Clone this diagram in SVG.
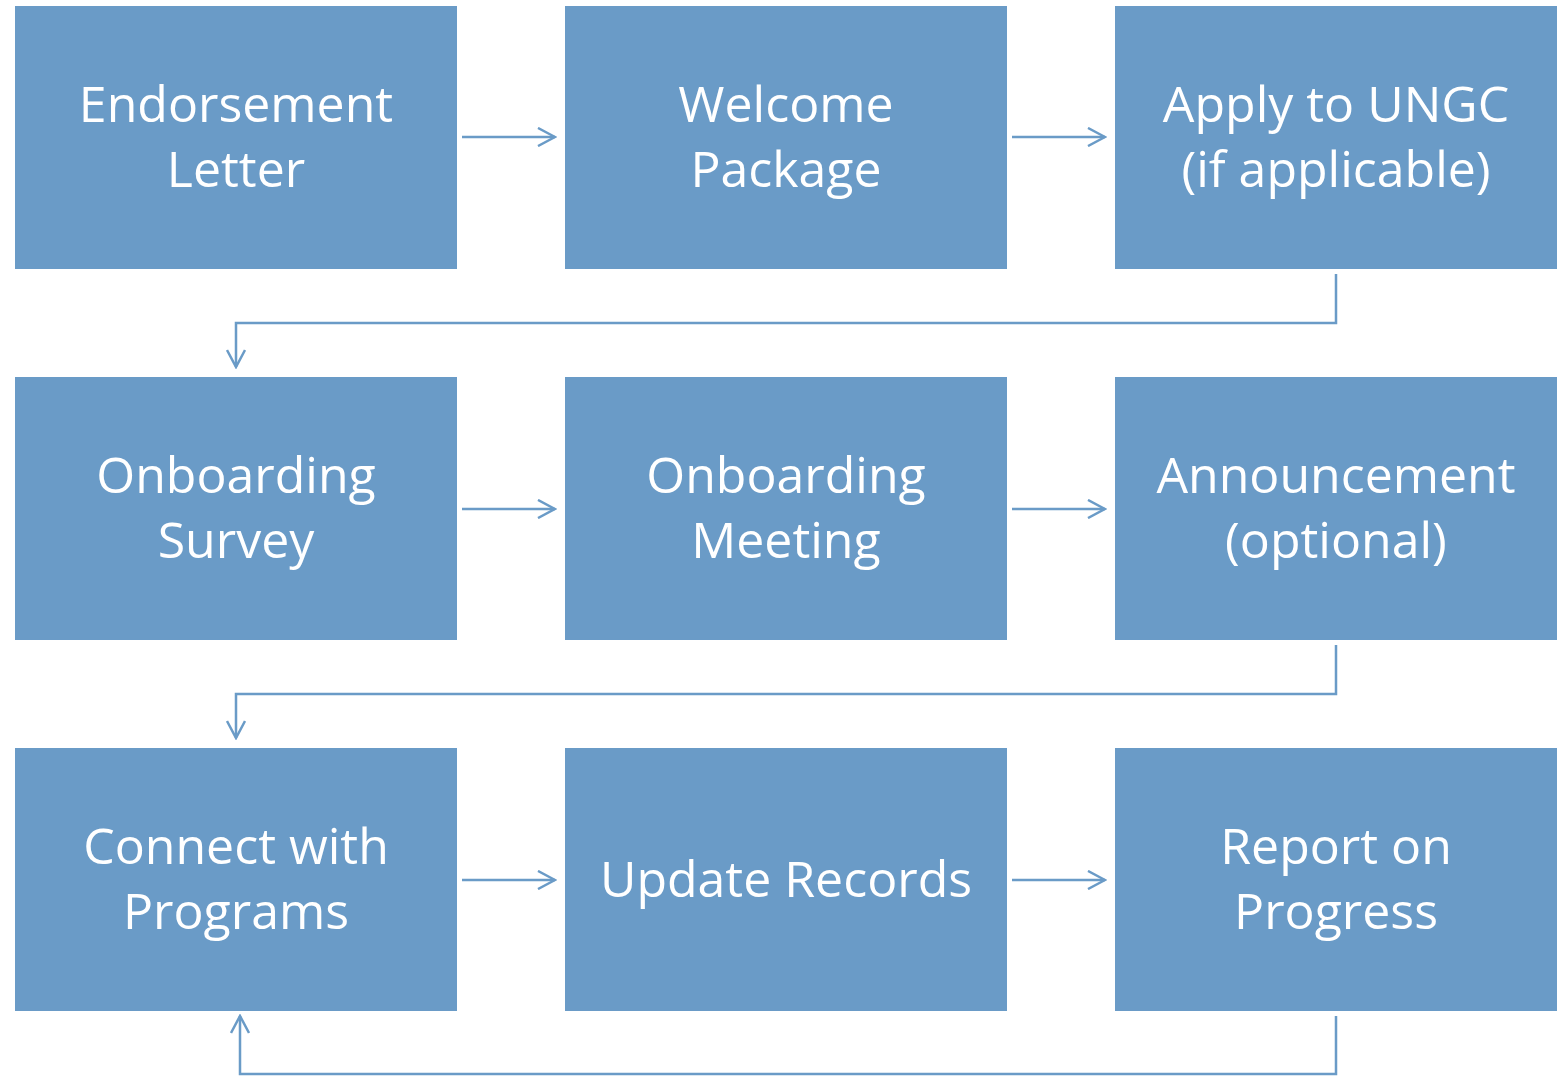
<svg xmlns="http://www.w3.org/2000/svg" width="1567" height="1076" viewBox="0 0 1567 1076">
<defs>
<style>
.box{fill:#6a9bc7}
.t{fill:#ffffff;font-family:"Open Sans","Liberation Sans",sans-serif;font-size:50px;text-anchor:middle}
.c{fill:none;stroke:#6a9bc7;stroke-width:2.5}
</style>
<marker id="ah" markerWidth="20" markerHeight="20" refX="18" refY="10" orient="auto" markerUnits="userSpaceOnUse">
<path d="M1,1 L18,10 L1,19" fill="none" stroke="#6a9bc7" stroke-width="2.5"/>
</marker>
</defs>
<rect width="1567" height="1076" fill="#ffffff"/>
<g id="n1"><rect class="box" x="15" y="6" width="442" height="263"/><text class="t" x="236" y="122">Endorsement</text><text class="t" x="236" y="187">Letter</text></g>
<g id="n2"><rect class="box" x="565" y="6" width="442" height="263"/><text class="t" x="786" y="122">Welcome</text><text class="t" x="786" y="187">Package</text></g>
<g id="n3"><rect class="box" x="1115" y="6" width="442" height="263"/><text class="t" x="1336" y="122">Apply to UNGC</text><text class="t" x="1336" y="187">(if applicable)</text></g>
<g id="n4"><rect class="box" x="15" y="377" width="442" height="263"/><text class="t" x="236" y="493">Onboarding</text><text class="t" x="236" y="558">Survey</text></g>
<g id="n5"><rect class="box" x="565" y="377" width="442" height="263"/><text class="t" x="786" y="493">Onboarding</text><text class="t" x="786" y="558">Meeting</text></g>
<g id="n6"><rect class="box" x="1115" y="377" width="442" height="263"/><text class="t" x="1336" y="493">Announcement</text><text class="t" x="1336" y="558">(optional)</text></g>
<g id="n7"><rect class="box" x="15" y="748" width="442" height="263"/><text class="t" x="236" y="864">Connect with</text><text class="t" x="236" y="929">Programs</text></g>
<g id="n8"><rect class="box" x="565" y="748" width="442" height="263"/><text class="t" x="786" y="897">Update Records</text></g>
<g id="n9"><rect class="box" x="1115" y="748" width="442" height="263"/><text class="t" x="1336" y="864">Report on</text><text class="t" x="1336" y="929">Progress</text></g>
<g id="connectors">
<path class="c" d="M462,137 H555" marker-end="url(#ah)"/>
<path class="c" d="M1012,137 H1105" marker-end="url(#ah)"/>
<path class="c" d="M1336,274 V323 H236 V367" marker-end="url(#ah)"/>
<path class="c" d="M462,509 H555" marker-end="url(#ah)"/>
<path class="c" d="M1012,509 H1105" marker-end="url(#ah)"/>
<path class="c" d="M1336,645 V694 H236 V738" marker-end="url(#ah)"/>
<path class="c" d="M462,880 H555" marker-end="url(#ah)"/>
<path class="c" d="M1012,880 H1105" marker-end="url(#ah)"/>
<path class="c" d="M1336,1016 V1074 H240 V1016" marker-end="url(#ah)"/>
</g>
</svg>
